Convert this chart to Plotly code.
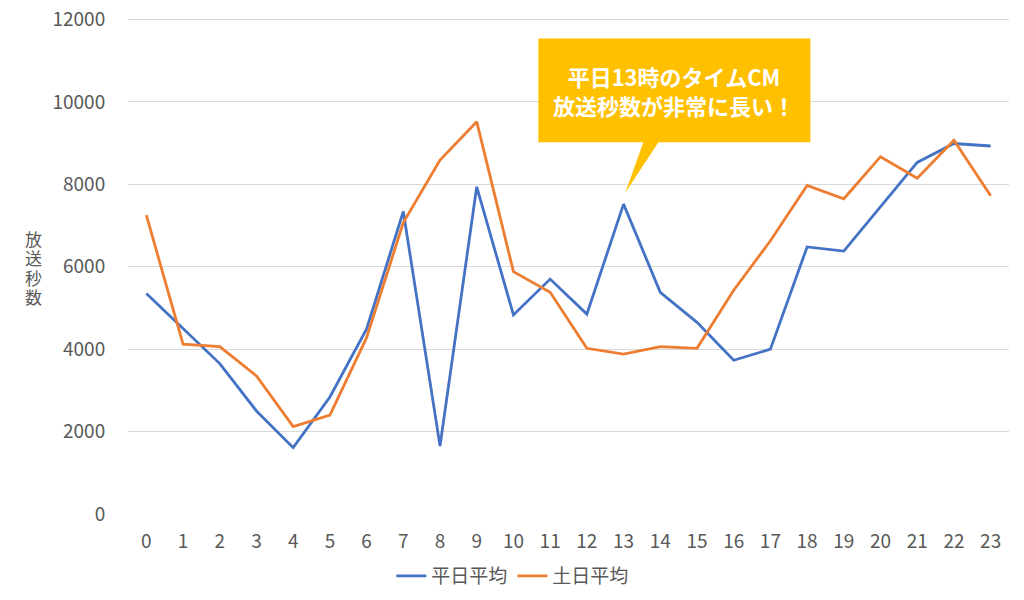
import plotly.graph_objects as go

hours = list(range(24))
tick_labels = [str(h) for h in hours]
weekday_avg = [5350, 4500, 3650, 2500, 1610, 2840, 4490, 7340, 1650, 7940, 4830, 5700,
               4850, 7520, 5380, 4650, 3730, 4000, 6480, 6380, 7450, 8530, 8990, 8930]
weekend_avg = [7250, 4120, 4060, 3350, 2120, 2400, 4280, 7070, 8590, 9520, 5880, 5380,
               4020, 3880, 4060, 4020, 5430, 6630, 7970, 7650, 8670, 8150, 9070, 7720]
series_names = ["平日平均", "土日平均"]
y_ticks = [0, 2000, 4000, 6000, 8000, 10000, 12000]
y_tick_labels = [str(v) for v in y_ticks]
y_title = "放送秒数"
callout_lines = ["平日13時のタイムCM", "放送秒数が非常に長い！"]

FONT = "Noto Sans CJK JP"
GREY = "#595959"
PLOT_H = 497

fig = go.Figure()
fig.add_trace(go.Scatter(x=hours, y=weekday_avg, mode="lines", name=series_names[0],
                         line=dict(color="#4472C4", width=2.8)))
fig.add_trace(go.Scatter(x=hours, y=weekend_avg, mode="lines", name=series_names[1],
                         line=dict(color="#ED7D31", width=2.8)))

# callout box (data coordinates)
bx0, bx1, by0, by1 = 10.68, 18.09, 9020, 11540
tail = [(13.54, by0), (13.05, 7800), (13.95, by0)]
path = (f"M {bx0},{by1} L {bx1},{by1} L {bx1},{by0} L {tail[2][0]},{by0} "
        f"L {tail[1][0]},{tail[1][1]} L {tail[0][0]},{by0} L {bx0},{by0} Z")
fig.add_shape(type="path", path=path, xref="x", yref="y",
              fillcolor="#FFC000", line=dict(width=0), layer="above")
fig.add_annotation(x=(bx0 + bx1) / 2, y=(by0 + by1) / 2, xref="x", yref="y",
                   text="<b>" + "<br>".join(callout_lines) + "</b>", showarrow=False,
                   font=dict(family=FONT, size=22, color="white"), align="center")

# vertical y-axis title, one character per line
for i, ch in enumerate(y_title):
    fig.add_annotation(x=(25 - 120) / 881, y=(513 - 237 - i * 19.5) / PLOT_H,
                       xref="paper", yref="paper", xanchor="center", yanchor="middle",
                       text=ch, showarrow=False,
                       font=dict(family=FONT, size=17, color=GREY))

fig.update_layout(
    width=1024, height=600,
    margin=dict(l=120, r=23, t=9, b=94, autoexpand=False),
    paper_bgcolor="white", plot_bgcolor="white",
    font=dict(family=FONT, color=GREY, size=19),
    xaxis=dict(range=[-0.5, 23.5], tickvals=hours, ticktext=tick_labels,
               showgrid=False, zeroline=False, showline=False,
               ticks="outside", ticklen=10, tickcolor="rgba(0,0,0,0)",
               ticklabeloverflow="allow",
               tickfont=dict(size=19, color=GREY)),
    yaxis=dict(range=[0, 12060], tickvals=y_ticks, ticktext=y_tick_labels,
               showgrid=True, gridcolor="#D9D9D9", gridwidth=1,
               zeroline=False, showline=False,
               ticks="outside", ticklen=18, tickcolor="rgba(0,0,0,0)",
               ticklabeloverflow="allow",
               tickfont=dict(size=19, color=GREY)),
    legend=dict(orientation="h", xref="container", yref="container",
                x=0.493, xanchor="center", y=32 / 600, yanchor="middle",
                font=dict(size=19, color=GREY), itemwidth=30),
    showlegend=True,
)

fig.write_html("out.html")
